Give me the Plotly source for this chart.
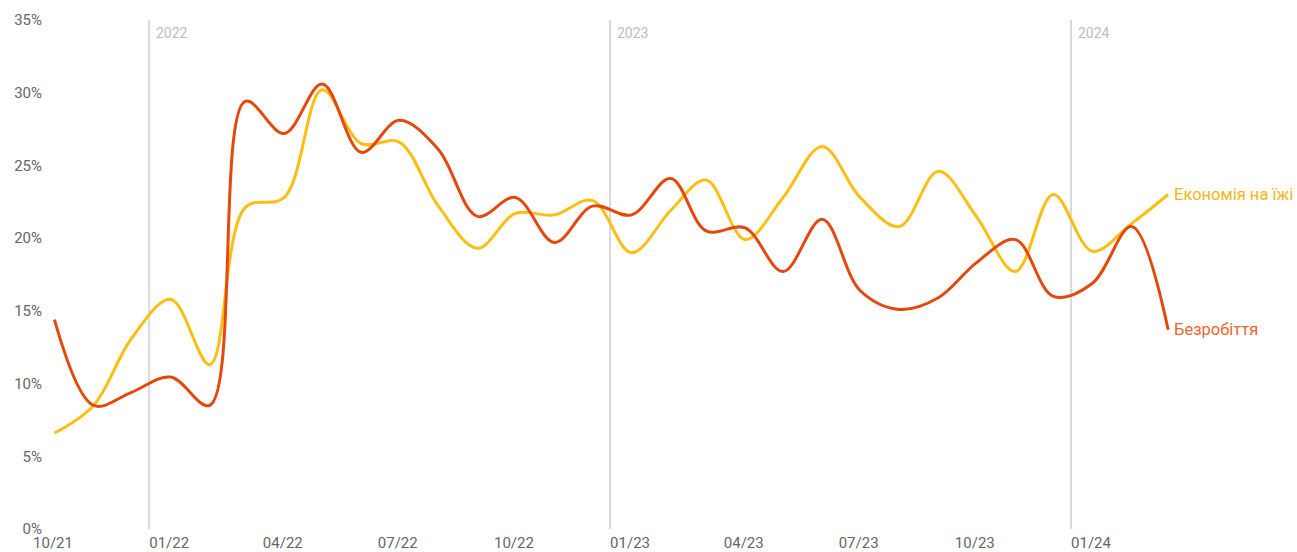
import plotly.graph_objects as go
import pandas as pd

months = pd.date_range("2021-10-01", periods=30, freq="MS") + pd.Timedelta(days=17)
dates = [d.strftime("%Y-%m-%d") for d in months]

unemployment = [14.4, 8.5, 9.4, 10.45, 8.5, 29.4, 27.2, 30.6, 25.9, 28.1,
                26.1, 21.5, 22.8, 19.7, 22.2, 21.6, 24.1, 20.5, 20.7, 17.7,
                21.3, 16.4, 15.1, 15.9, 18.3, 19.9, 16.0, 16.9, 20.8, 13.7]
food_saving = [6.6, 8.5, 13.1, 15.8, 11.3, 22.1, 22.8, 30.2, 26.5, 26.6,
               22.2, 19.3, 21.7, 21.6, 22.6, 19.0, 21.9, 24.0, 19.9, 22.8,
               26.3, 22.8, 20.8, 24.6, 21.5, 17.7, 23.0, 19.1, 21.0, 23.0]

series_names = ["Економія на їжі", "Безробіття"]
line_colors = ["#FDBE13", "#E5480C"]
label_colors = ["#F8B416", "#EE6432"]

year_lines = ["2022-01-01", "2023-01-01", "2024-01-01"]
year_labels = ["2022", "2023", "2024"]

tick_vals = pd.date_range("2021-10-01", "2024-01-01", freq="3MS")
tick_text = [d.strftime("%m/%y") for d in tick_vals]

y_ticks = [0, 5, 10, 15, 20, 25, 30, 35]
y_text = [f"{v}%" for v in y_ticks]

fig = go.Figure()

for name, vals, col in [(series_names[0], food_saving, line_colors[0]),
                        (series_names[1], unemployment, line_colors[1])]:
    fig.add_trace(go.Scatter(
        x=dates, y=vals, mode="lines", name=name,
        line=dict(color=col, width=3, shape="spline", smoothing=1.0),
        hoverinfo="x+y",
    ))

shapes = []
annotations = []
for d, lab in zip(year_lines, year_labels):
    shapes.append(dict(type="line", xref="x", yref="y", x0=d, x1=d, y0=0, y1=35,
                       line=dict(color="#D9D9D9", width=2), layer="below"))
    annotations.append(dict(x=d, y=35, xref="x", yref="y", text=lab, showarrow=False,
                            xanchor="left", yanchor="top", xshift=5, yshift=-3,
                            font=dict(family="Roboto", size=14, color="#BDBDBD")))

annotations.append(dict(x=dates[-1], y=food_saving[-1], xref="x", yref="y",
                        text=series_names[0], showarrow=False, xanchor="left",
                        xshift=4, font=dict(family="Roboto", size=16.5, color=label_colors[0])))
annotations.append(dict(x=dates[-1], y=unemployment[-1], xref="x", yref="y",
                        text=series_names[1], showarrow=False, xanchor="left",
                        xshift=4, font=dict(family="Roboto", size=16.5, color=label_colors[1])))

fig.update_layout(
    width=1297, height=552,
    margin=dict(l=33, r=0, t=20, b=23),
    paper_bgcolor="white", plot_bgcolor="white",
    showlegend=False,
    shapes=shapes, annotations=annotations,
    font=dict(family="Roboto", color="#666666", size=15),
    xaxis=dict(
        type="date", range=["2021-10-01", "2024-06-28"],
        tickvals=list(tick_vals), ticktext=tick_text,
        showgrid=False, zeroline=False, showline=False, ticks="",
        ticklabelshift=20, ticklabelstandoff=3, automargin=False,
        tickfont=dict(family="Roboto", size=15, color="#666666"),
    ),
    yaxis=dict(
        range=[0, 35], tickvals=y_ticks, ticktext=y_text,
        showgrid=False, zeroline=False, showline=False, ticks="",
        ticklabelstandoff=-10, automargin=False,
        tickfont=dict(family="Roboto", size=15, color="#666666"),
    ),
)

fig.write_html("out.html", config={"displayModeBar": False},
               post_script="document.body.style.margin='0';document.body.style.padding='0';")
